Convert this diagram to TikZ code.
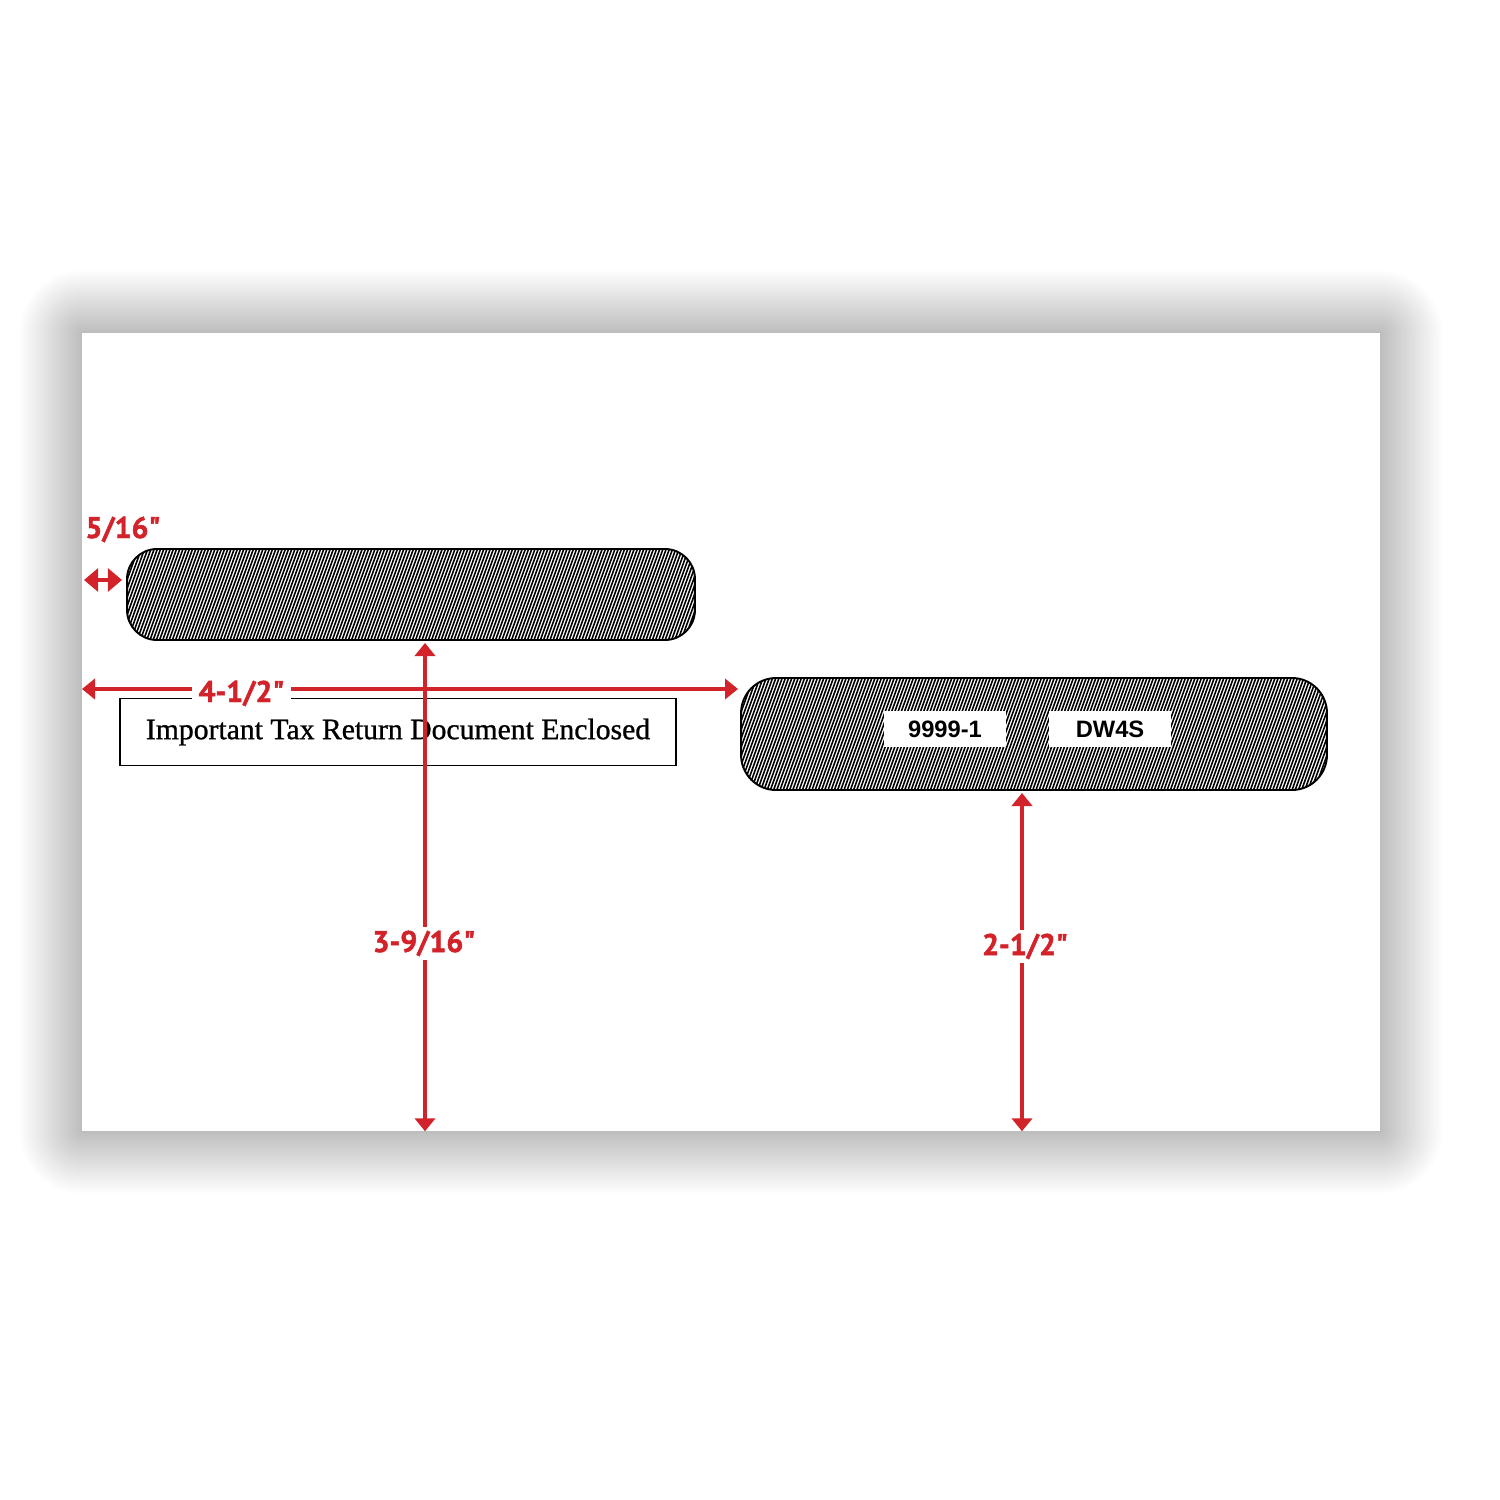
\documentclass[tikz,border=0pt]{standalone}
\usepackage{fontspec}
\setmainfont{Liberation Serif}
\newfontfamily\boxfont[FakeBold=0.9]{Liberation Serif}
\newfontfamily\dimfont[BoldFeatures={FakeBold=1.6}]{PT Sans}
\newfontfamily\labfont{Liberation Sans}
\usetikzlibrary{arrows.meta,calc}
\definecolor{dimred}{RGB}{210,35,42}
\tikzset{
  hatchwin/.style={draw=black, line width=1.1pt, fill=white, rounded corners=#1, inner sep=0pt,
    path picture={
      \foreach \k in {0,...,210}{
        \draw[black, line width=0.9pt, sharp corners]
          ($(path picture bounding box.south west)+(\k*3.2-45,2)$) -- ++(45,-124);
      }}},
  dimline/.style={draw=dimred, line width=1.95pt,
    {Triangle[length=7.4pt,width=11.5pt]}-{Triangle[length=7.4pt,width=11.5pt]}},
  smalldim/.style={draw=dimred, line width=1.95pt,
    {Triangle[length=8pt,width=13pt]}-{Triangle[length=8pt,width=13pt]}},
  dimlab/.style={fill=white, text=dimred, inner xsep=4pt, inner ysep=2pt,
    font=\dimfont\bfseries\fontsize{17}{18}\selectfont},
  codebox/.style={fill=white, inner sep=0pt, minimum width=2.44cm, minimum height=0.72cm,
    font=\labfont\bfseries\fontsize{13.5}{14}\selectfont}
}
\begin{document}
\begin{tikzpicture}[x=0.02cm,y=-0.02cm]
\useasboundingbox (0,0) rectangle (1500,1500);
\fill[white] (0,0) rectangle (1500,1500);
% shadow
\foreach \i in {0,...,40}{
  \pgfmathsetmacro\d{64*(1-\i/40)}
  \pgfmathsetmacro\g{26*\i/40}
  \pgfmathsetmacro\r{0.02*\d+0.01}
  \fill[black!\g, rounded corners=\r cm] (82-\d,333-\d) rectangle (1380+\d,1131+\d);
}
% envelope
\node[fill=white, inner sep=0pt, minimum width=25.96cm, minimum height=15.96cm] (env) at (731,732) {};
% windows
\node[hatchwin=0.6cm, minimum width=11.36cm, minimum height=1.82cm] (win1) at (411,594.5) {};
\node[hatchwin=0.7cm, minimum width=11.72cm, minimum height=2.24cm] (win2) at (1034,734) {};
\node[codebox] (code1) at (945,729) {9999-1};
\node[codebox] (code2) at (1110,729) {DW4S};
% text box
\node[draw=black, line width=1pt, inner sep=0pt, minimum width=11.12cm, minimum height=1.34cm,
      font=\boxfont\fontsize{16.9}{18}\selectfont] (tbox) at (398,732) {Important Tax Return Document Enclosed};
% dimension coordinates
\coordinate (s1) at (84,580);
\coordinate (s2) at (122,580);
\coordinate (h1) at (82,689);
\coordinate (h2) at (738,689);
\coordinate (v1) at (425,643);
\coordinate (v2) at (1022,793);
% dimension lines
\draw[smalldim] (s1) -- (s2);
\draw[dimline] (h1) -- (h2);
\draw[dimline] (v1) -- (v1 |- env.south);
\draw[dimline] (v2) -- (v2 |- env.south);
% labels
\node[dimlab, fill=none, anchor=base] (l516) at (123,538) {5/16"};
\node[dimlab, anchor=base] (l412) at (241.5,702) {4-1/2"};
\node[dimlab, anchor=base] (l3916) at (424,952) {3-9/16"};
\node[dimlab, anchor=base] (l212) at (1025,955) {2-1/2"};
\end{tikzpicture}
\end{document}
